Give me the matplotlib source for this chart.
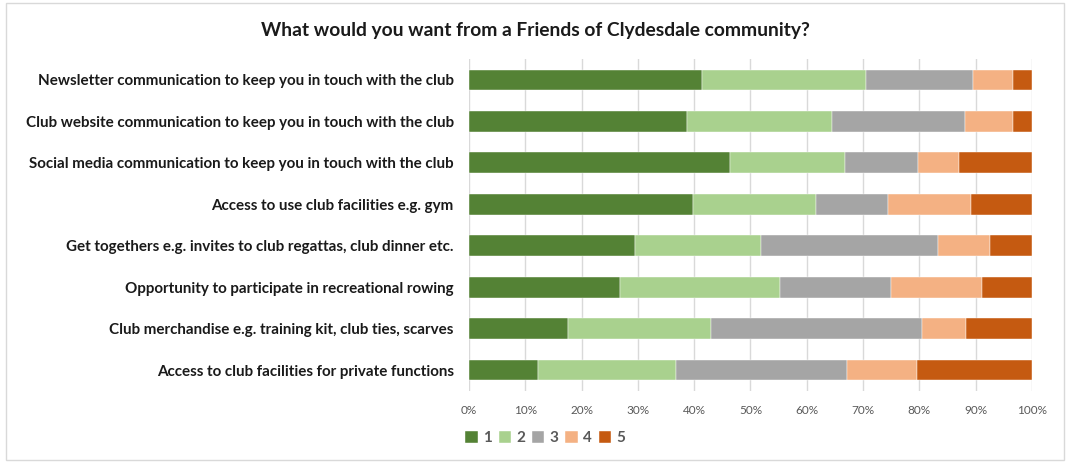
import matplotlib
matplotlib.use("Agg")
import matplotlib.pyplot as plt
from matplotlib.patches import Rectangle
from matplotlib.ticker import PercentFormatter
import numpy as np

plt.rcParams['font.family'] = ['Lato', 'DejaVu Sans']

title = "What would you want from a Friends of Clydesdale community?"
categories = [
    "Newsletter communication to keep you in touch with the club",
    "Club website communication to keep you in touch with the club",
    "Social media communication to keep you in touch with the club",
    "Access to use club facilities e.g. gym",
    "Get togethers e.g. invites to club regattas, club dinner etc.",
    "Opportunity to participate in recreational rowing",
    "Club merchandise e.g. training kit, club ties, scarves",
    "Access to club facilities for private functions",
]
series_names = ["1", "2", "3", "4", "5"]
s1 = [41.4, 38.8, 46.4, 39.8, 29.4, 26.9, 17.5, 12.3]
s2 = [29.2, 25.6, 20.3, 21.9, 22.5, 28.3, 25.5, 24.4]
s3 = [19.0, 23.7, 13.0, 12.7, 31.4, 19.7, 37.4, 30.4]
s4 = [7.1, 8.6, 7.3, 14.7, 9.2, 16.2, 7.9, 12.4]
s5 = [3.3, 3.3, 13.0, 10.9, 7.5, 8.9, 11.7, 20.5]
colors = ["#548235", "#A9D18E", "#A5A5A5", "#F4B183", "#C55A11"]
xticks = [0, 10, 20, 30, 40, 50, 60, 70, 80, 90, 100]

fig = plt.figure(figsize=(10.7, 4.62), dpi=100)
fig.patches.append(Rectangle((0.006, 0.004), 0.988, 0.99, transform=fig.transFigure,
                             fill=False, edgecolor="#D9D9D9", linewidth=1.0))
ax = fig.add_axes([0.4383, 0.154, 0.5262, 0.718])

data = np.array([s1, s2, s3, s4, s5], dtype=float)
data = data / data.sum(axis=0) * 100
y = np.arange(len(categories))
left = np.zeros(len(categories))
for vals, name, c in zip(data, series_names, colors):
    ax.barh(y, vals, left=left, height=0.5, color=c, label=name, zorder=3,
            edgecolor="white", linewidth=0.3)
    left += vals

ax.set_ylim(len(categories) - 0.5, -0.5)
ax.set_xlim(0, 100)
ax.set_yticks(y)
ax.set_yticklabels(categories, fontsize=10.9, fontweight="bold", color="#1a1a1a")
ax.set_xticks(xticks)
ax.xaxis.set_major_formatter(PercentFormatter(decimals=0))
ax.tick_params(axis="x", labelsize=8.5, colors="#595959", length=0, pad=10)
ax.tick_params(axis="y", length=0, pad=11)
for sp in ax.spines.values():
    sp.set_visible(False)
ax.grid(axis="x", color="#D9D9D9", linewidth=1.0, zorder=0)
ax.set_axisbelow(True)

fig.text(0.5, 0.935, title, ha="center", va="center", fontsize=13.9,
         fontweight="bold", color="#1a1a1a")

leg = ax.legend(loc="center left", bbox_to_anchor=(0.422, 0.052), bbox_transform=fig.transFigure,
                ncol=5, frameon=False, handlelength=0.8, handleheight=0.8,
                handletextpad=0.35, columnspacing=0.45,
                prop={"size": 11, "weight": "bold"})
for t in leg.get_texts():
    t.set_color("#595959")

fig.savefig("out.png", dpi=100)
